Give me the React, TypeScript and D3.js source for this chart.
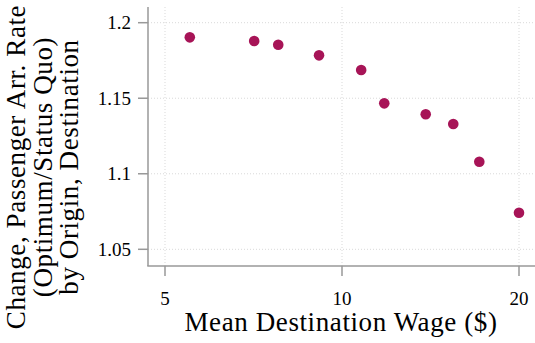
import React, { useRef, useEffect } from 'react';
import * as d3 from 'd3';

// mean destination wage ($) and change in passenger arrival rate
const wages = [5.51, 7.09, 7.79, 9.14, 10.78, 11.8, 13.88, 15.46, 17.12, 20.0];
const rateChange = [1.1903, 1.1879, 1.1854, 1.1784, 1.1687, 1.1466, 1.1394, 1.1329, 1.108, 1.0742];
const xTicks = [5, 10, 20];
const yTicks = [1.05, 1.1, 1.15, 1.2];
const yTickLabels = ['1.05', '1.1', '1.15', '1.2'];
const yTitle = ['Change, Passenger Arr. Rate', '(Optimum/Status Quo)', 'by Origin, Destination'];
const xTitle = 'Mean Destination Wage ($)';

const W = 535;
const H = 343;
const FONT = '"Liberation Serif", "Times New Roman", serif';

const App = () => {
  const svgRef = useRef<SVGSVGElement>(null);

  useEffect(() => {
    const svg = d3.select(svgRef.current);
    svg.selectAll('*').remove();

    const plot = { left: 148, right: 535, top: 7, bottom: 266 };

    const x = d3.scaleLog().domain([5, 20]).range([165, 519]);
    const y = d3.scaleLinear().domain([1.05, 1.2]).range([249.3, 22.7]);

    // grid
    const grid = svg.append('g').attr('stroke', '#d9d9d9').attr('stroke-width', 1)
      .attr('stroke-dasharray', '1,2');
    grid.selectAll('line.h').data(yTicks).join('line')
      .attr('x1', plot.left).attr('x2', plot.right)
      .attr('y1', d => y(d)).attr('y2', d => y(d));
    grid.selectAll('line.v').data(xTicks).join('line')
      .attr('class', 'v')
      .attr('y1', plot.top).attr('y2', plot.bottom)
      .attr('x1', d => x(d)).attr('x2', d => x(d));

    // axes
    const axisColor = '#999';
    svg.append('line').attr('x1', plot.left).attr('x2', plot.left)
      .attr('y1', plot.top).attr('y2', plot.bottom)
      .attr('stroke', axisColor).attr('stroke-width', 1.5);
    svg.append('line').attr('x1', plot.left - 0.75).attr('x2', plot.right)
      .attr('y1', plot.bottom).attr('y2', plot.bottom)
      .attr('stroke', axisColor).attr('stroke-width', 1.5);

    svg.append('g').selectAll('line').data(yTicks).join('line')
      .attr('x1', plot.left - 10).attr('x2', plot.left)
      .attr('y1', d => y(d)).attr('y2', d => y(d))
      .attr('stroke', axisColor).attr('stroke-width', 1.5);
    svg.append('g').selectAll('line').data(xTicks).join('line')
      .attr('x1', d => x(d)).attr('x2', d => x(d))
      .attr('y1', plot.bottom).attr('y2', plot.bottom + 10)
      .attr('stroke', axisColor).attr('stroke-width', 1.5);

    // tick labels
    svg.append('g').selectAll('text').data(yTicks).join('text')
      .attr('x', 131).attr('y', d => y(d)).attr('dy', '0.33em')
      .attr('text-anchor', 'end')
      .style('font-family', FONT).style('font-size', '19px').attr('fill', '#000')
      .text((d, i) => yTickLabels[i]);
    svg.append('g').selectAll('text').data(xTicks).join('text')
      .attr('x', d => x(d)).attr('y', 305)
      .attr('text-anchor', 'middle')
      .style('font-family', FONT).style('font-size', '19px').attr('fill', '#000')
      .text(d => String(d));

    // axis titles
    svg.append('text')
      .attr('x', 341).attr('y', 331)
      .attr('text-anchor', 'middle')
      .style('font-family', FONT).style('font-size', '27px').style('letter-spacing', '0.6px')
      .attr('fill', '#000')
      .text(xTitle);

    const yt = svg.append('text')
      .attr('transform', 'translate(0,167) rotate(-90)')
      .attr('text-anchor', 'middle')
      .style('font-family', FONT).style('font-size', '27px').style('letter-spacing', '0.6px')
      .attr('fill', '#000');
    yTitle.forEach((line, i) => {
      yt.append('tspan').attr('x', 0).attr('y', 25 + i * 26.5).text(line);
    });

    // points
    svg.append('g').selectAll('circle').data(wages).join('circle')
      .attr('cx', d => x(d))
      .attr('cy', (d, i) => y(rateChange[i]))
      .attr('r', 5.3)
      .attr('fill', '#a71457');
  }, []);

  return (
    <svg ref={svgRef} width={W} height={H}
      style={{ position: 'absolute', left: 0, top: 0, background: '#fff' }} />
  );
};

export default App;
